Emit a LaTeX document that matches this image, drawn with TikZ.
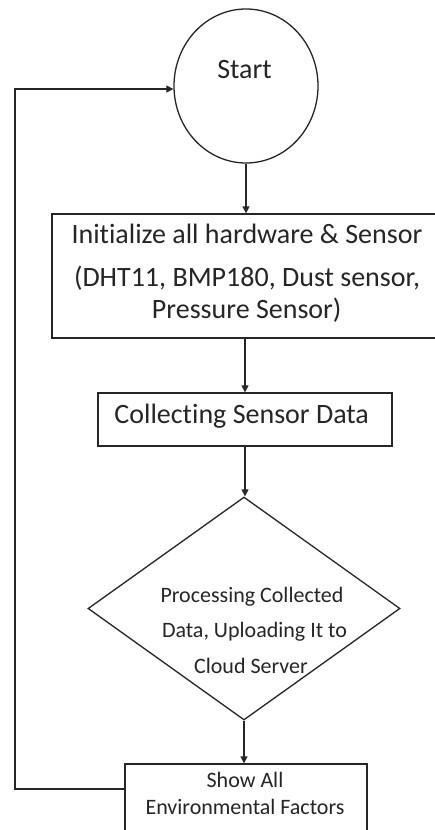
\documentclass[tikz,border=0pt]{standalone}
\usepackage{fontspec}
\setmainfont[Ligatures=CommonOff]{Carlito}
\usetikzlibrary{shapes.geometric,arrows.meta}
\begin{document}
\begin{tikzpicture}[x=1pt,y=-1pt,
  shapeline/.style={draw=black!85,line width=1.3pt},
  arrow/.style={draw=black!85,line width=1.3pt,-{Triangle[length=7pt,width=7pt]}},
  bigtxt/.style={anchor=base,inner sep=0pt,text=black!85,font=\fontsize{28}{30}\selectfont},
  smalltxt/.style={anchor=base,inner sep=0pt,text=black!85,font=\fontsize{22}{24}\selectfont}]
\useasboundingbox (0,0) rectangle (435,830);
\fill[white] (0,0) rectangle (435,830);
% shapes
\node[shapeline,ellipse,minimum width=144pt,minimum height=154pt,inner sep=0pt] (start) at (246,86) {};
\node[shapeline,rectangle,minimum width=390pt,minimum height=124pt,inner sep=0pt] (init) at (247,276) {};
\node[shapeline,rectangle,minimum width=294pt,minimum height=53pt,inner sep=0pt] (collect) at (245,419.5) {};
\node[shapeline,diamond,minimum width=312pt,minimum height=223pt,inner sep=0pt] (proc) at (244,608.5) {};
\node[shapeline,rectangle,minimum width=242pt,minimum height=68pt,inner sep=0pt] (show) at (246,798) {};
% texts
\node[bigtxt] (tstart) at (244.5,78) {Start};
\node[bigtxt] (tinit1) at (247,243) {Initialize all hardware \& Sensor};
\node[bigtxt] (tinit2) at (247,286) {(DHT11, BMP180, Dust sensor,};
\node[bigtxt] (tinit3) at (246.7,318) {Pressure Sensor)};
\node[bigtxt] (tcoll) at (241.7,423) {Collecting Sensor Data};
\node[smalltxt] (tproc1) at (252,602) {Processing Collected};
\node[smalltxt] (tproc2) at (254.5,637) {Data, Uploading It to};
\node[smalltxt] (tproc3) at (251,673) {Cloud Server};
\node[smalltxt] (tshow1) at (245,787) {Show All};
\node[smalltxt] (tshow2) at (245,814) {Environmental Factors};
% connectors
\draw[arrow] (start.south) -- (start.south |- init.north);
\draw[arrow] (init.south -| collect.north) -- (collect.north);
\draw[arrow] (collect.south) -- (collect.south |- proc.north);
\draw[arrow] (proc.south) -- (proc.south |- show.north);
\coordinate (c1) at (15,789);
\coordinate (c2) at (15,89);
\draw[arrow] (show.west |- c1) -- (c1) -- (c2) -- (c2 -| start.west);
\end{tikzpicture}
\end{document}
